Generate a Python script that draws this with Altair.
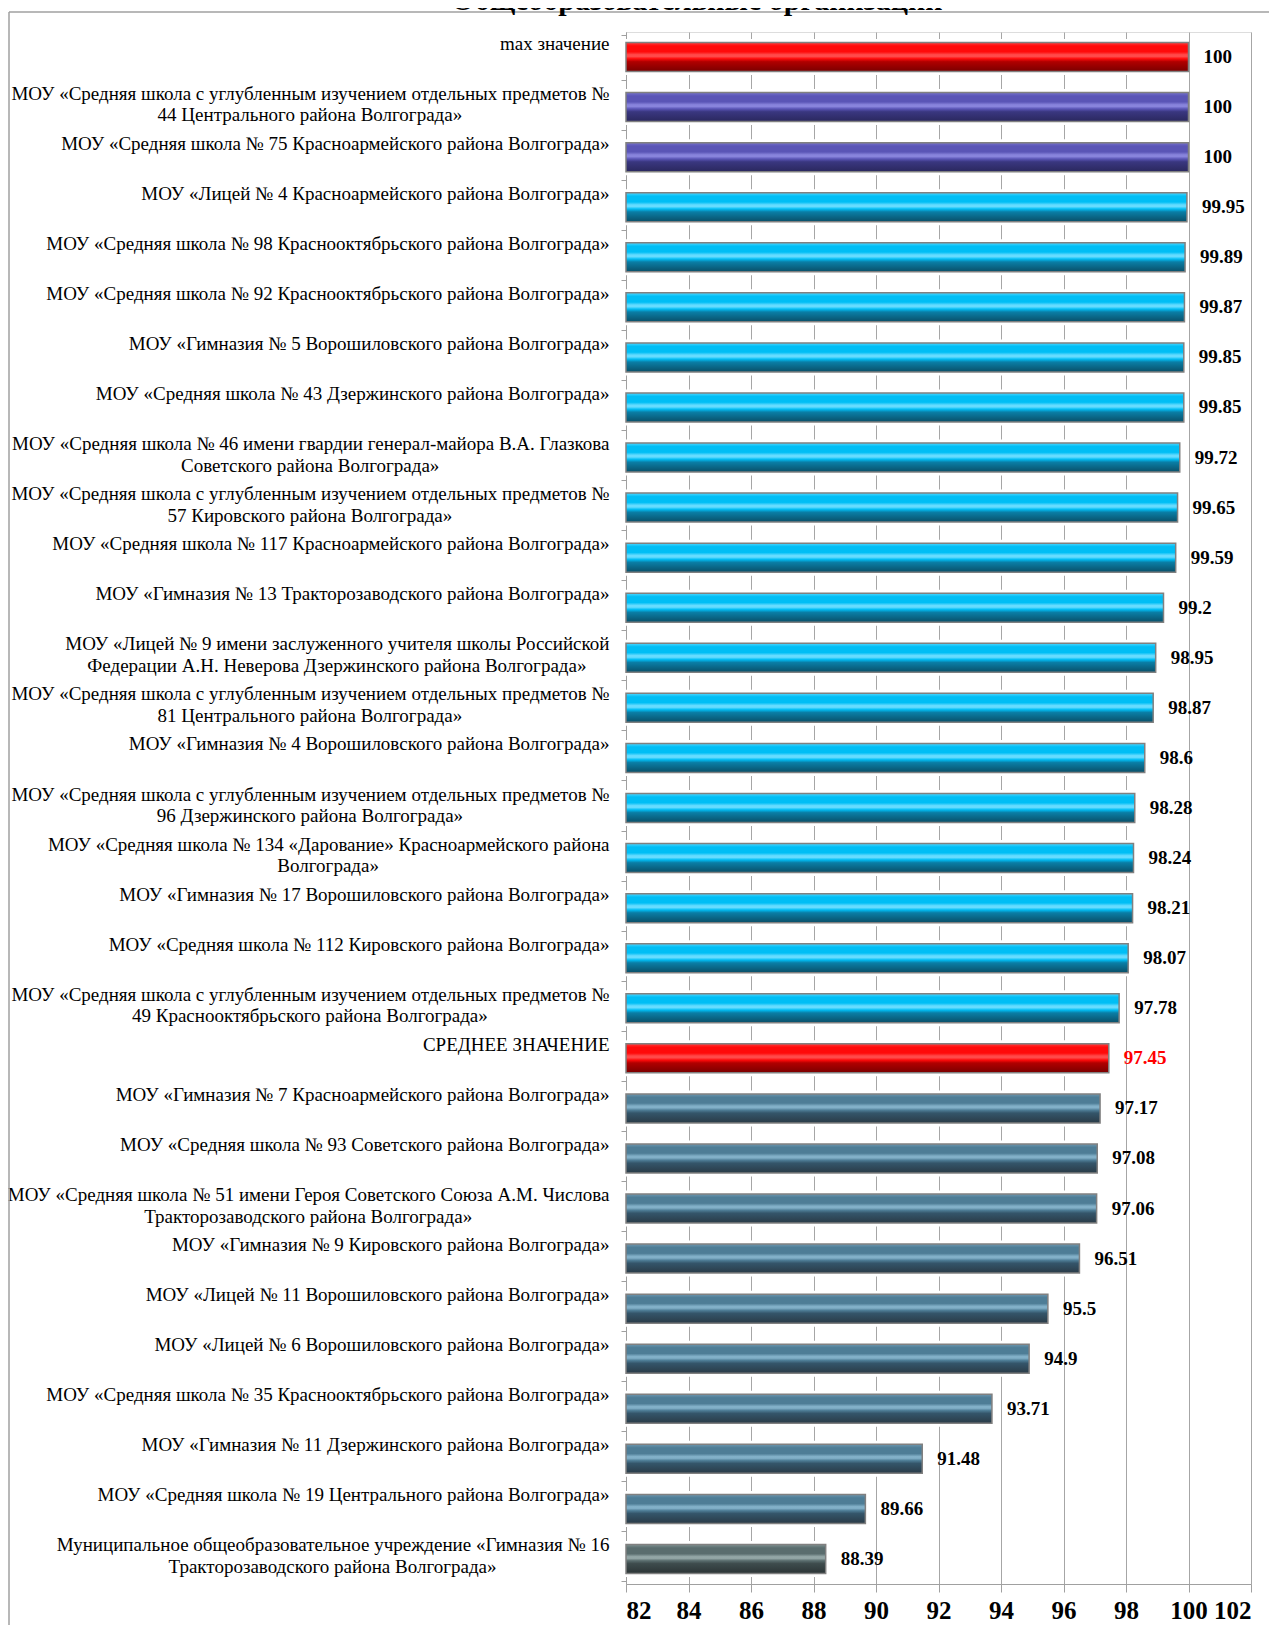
import glob
import altair as alt
import pandas as pd

TITLE = "Общеобразовательные организации"

labels = [
    "max значение",
    "МОУ «Средняя школа с углубленным изучением отдельных предметов №|44 Центрального района Волгограда»",
    "МОУ «Средняя школа № 75 Красноармейского района Волгограда»",
    "МОУ «Лицей № 4 Красноармейского района Волгограда»",
    "МОУ «Средняя школа № 98 Краснооктябрьского района Волгограда»",
    "МОУ «Средняя школа № 92 Краснооктябрьского района Волгограда»",
    "МОУ «Гимназия № 5 Ворошиловского района Волгограда»",
    "МОУ «Средняя школа № 43 Дзержинского района Волгограда»",
    "МОУ «Средняя школа № 46 имени гвардии генерал-майора В.А. Глазкова|Советского района Волгограда»",
    "МОУ «Средняя школа с углубленным изучением отдельных предметов №|57 Кировского района Волгограда»",
    "МОУ «Средняя школа № 117 Красноармейского района Волгограда»",
    "МОУ «Гимназия № 13 Тракторозаводского района Волгограда»",
    "МОУ «Лицей № 9 имени заслуженного учителя школы Российской|Федерации А.Н. Неверова Дзержинского района Волгограда»",
    "МОУ «Средняя школа с углубленным изучением отдельных предметов №|81 Центрального района Волгограда»",
    "МОУ «Гимназия № 4 Ворошиловского района Волгограда»",
    "МОУ «Средняя школа с углубленным изучением отдельных предметов №|96 Дзержинского района Волгограда»",
    "МОУ «Средняя школа № 134 «Дарование» Красноармейского района|Волгограда»",
    "МОУ «Гимназия № 17 Ворошиловского района Волгограда»",
    "МОУ «Средняя школа № 112 Кировского района Волгограда»",
    "МОУ «Средняя школа с углубленным изучением отдельных предметов №|49 Краснооктябрьского района Волгограда»",
    "СРЕДНЕЕ ЗНАЧЕНИЕ",
    "МОУ «Гимназия № 7 Красноармейского района Волгограда»",
    "МОУ «Средняя школа № 93 Советского района Волгограда»",
    "МОУ «Средняя школа № 51 имени Героя Советского Союза А.М. Числова|Тракторозаводского района Волгограда»",
    "МОУ «Гимназия № 9 Кировского района Волгограда»",
    "МОУ «Лицей № 11 Ворошиловского района Волгограда»",
    "МОУ «Лицей № 6 Ворошиловского района Волгограда»",
    "МОУ «Средняя школа № 35 Краснооктябрьского района Волгограда»",
    "МОУ «Гимназия № 11 Дзержинского района Волгограда»",
    "МОУ «Средняя школа № 19 Центрального района Волгограда»",
    "Муниципальное общеобразовательное учреждение «Гимназия № 16|Тракторозаводского района Волгограда»",
]

values = [100, 100, 100, 99.95, 99.89, 99.87, 99.85, 99.85, 99.72, 99.65, 99.59,
          99.2, 98.95, 98.87, 98.6, 98.28, 98.24, 98.21, 98.07, 97.78, 97.45,
          97.17, 97.08, 97.06, 96.51, 95.5, 94.9, 93.71, 91.48, 89.66, 88.39]

groups = (["red"] + ["purple"] * 2 + ["cyan"] * 17 + ["red"] + ["slate"] * 9 + ["gray"])

x_ticks = list(range(82, 103, 2))

# gradient stops per group: (top edge, main, highlight, lower-dark, bottom)
palette = {
    "red":    ("#ff3b3b", "#ff0a0a", "#ff4a4a", "#b00000", "#7a0000"),
    "purple": ("#7470cc", "#5a55b6", "#8884dc", "#3a3780", "#2a285e"),
    "cyan":   ("#4fd6ff", "#00bef5", "#66dcff", "#0a7ea6", "#0a4f68"),
    "slate":  ("#6e98b0", "#4e7d96", "#82b0c8", "#34556a", "#2a3b47"),
    "gray":   ("#7f9292", "#5a6d6e", "#93a6a6", "#3e4c4d", "#2c3536"),
}

FONT = "Liberation Serif"
LABEL_SIZE = 19
TICK = 5
LPAD = 12

# text width measurement for centring the second line of wrapped labels
_measure = None
try:
    from PIL import ImageFont
    paths = glob.glob("/usr/share/fonts/**/LiberationSerif-Regular.ttf", recursive=True)
    if paths:
        _pf = ImageFont.truetype(paths[0], LABEL_SIZE)
        _measure = lambda s: _pf.getlength(s)
except Exception:
    _measure = None
if _measure is None:
    _measure = lambda s: 9.3 * len(s) * LABEL_SIZE / 19.0

df = pd.DataFrame({"label": labels, "value": values, "group": groups,
                   "txt": [f"{v:g}" for v in values]})
df["base"] = 82

rows2 = []
for lab in labels:
    if "|" in lab:
        first, second = lab.split("|", 1)
        w = _measure(first)
        rows2.append({"label": lab, "line2": second, "cx": -(TICK + LPAD) - w / 2.0})
df2 = pd.DataFrame(rows2)

y_enc = alt.Y("label:N", sort=labels, title=None,
              axis=alt.Axis(labelExpr="split(datum.label, '|')[0]",
                            labelFont=FONT, labelFontSize=LABEL_SIZE, labelColor="#000000",
                            labelAlign="right", labelBaseline="top", labelOffset=-23,
                            labelLimit=0, labelPadding=LPAD,
                            tickBand="extent", tickSize=TICK, tickColor="#a0a0a0",
                            domainColor="#a0a0a0", grid=False))

x_enc = alt.X("value:Q", title=None,
              scale=alt.Scale(domain=[82, 102], zero=False, nice=False),
              axis=alt.Axis(values=x_ticks, grid=True, gridColor="#a6a6a6",
                            domainColor="#a0a0a0", tickColor="#a0a0a0", tickSize=8,
                            labelFont=FONT, labelFontSize=25, labelFontWeight="bold",
                            labelColor="#000000", labelPadding=6, format="d"))

base = alt.Chart(df)

mask = base.mark_bar(color="white", size=36).encode(x=x_enc, x2="base:Q", y=y_enc)

bar_layers = []
for g, (c0, c1, c2, c3, c4) in palette.items():
    grad = alt.Gradient(
        gradient="linear", x1=0, x2=0, y1=0, y2=1,
        stops=[
            alt.GradientStop(color=c0, offset=0),
            alt.GradientStop(color=c1, offset=0.12),
            alt.GradientStop(color=c1, offset=0.32),
            alt.GradientStop(color=c2, offset=0.42),
            alt.GradientStop(color=c2, offset=0.48),
            alt.GradientStop(color=c1, offset=0.56),
            alt.GradientStop(color=c3, offset=0.66),
            alt.GradientStop(color=c4, offset=1),
        ])
    bar_layers.append(
        base.transform_filter(alt.datum.group == g)
        .mark_bar(color=grad, size=29, stroke="#808080", strokeWidth=1.5)
        .encode(x=x_enc, x2="base:Q", y=y_enc)
    )

text = base.mark_text(align="left", baseline="middle", dx=15, font=FONT,
                      fontSize=19, fontWeight="bold").encode(
    x=x_enc, y=y_enc, text="txt:N",
    color=alt.condition(alt.datum.label == "СРЕДНЕЕ ЗНАЧЕНИЕ",
                        alt.value("#ff0000"), alt.value("#000000")))

line2 = alt.Chart(df2).mark_text(align="center", baseline="top", dy=-1, font=FONT,
                                 fontSize=LABEL_SIZE, color="#000000").encode(
    x=alt.X("cx:Q", scale=None), y=alt.Y("label:N", sort=labels), text="line2:N")

one = pd.DataFrame({"k": [0]})
frame_top = alt.Chart(one).mark_rule(color="#a0a0a0", strokeWidth=1.5).encode(
    x=alt.value(-617), x2=alt.value(700), y=alt.value(-20))
frame_left = alt.Chart(one).mark_rule(color="#a0a0a0", strokeWidth=1.5).encode(
    x=alt.value(-617), y=alt.value(-20), y2=alt.value(1700))
title = alt.Chart(one).mark_text(text=TITLE, font=FONT, fontSize=30, fontWeight="bold",
                                 align="center", baseline="alphabetic",
                                 color="#000000").encode(
    x=alt.value(71), y=alt.value(-22))

chart = alt.layer(frame_top, frame_left, title, mask, *bar_layers, text, line2).properties(
    width=625, height=1552,
    padding={"left": 618, "top": 24, "right": 18, "bottom": 41},
    autosize="none",
).configure_view(strokeWidth=0).configure(background="white")

chart.save("out.html", embed_options={"renderer": "svg", "actions": False})
